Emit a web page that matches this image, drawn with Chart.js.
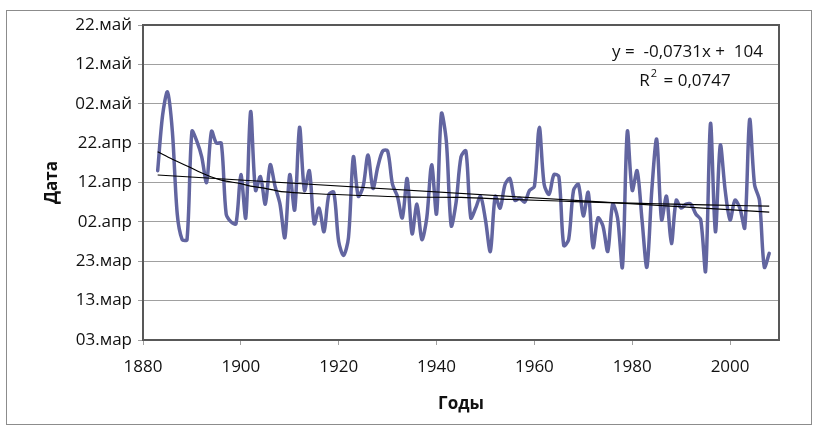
<!DOCTYPE html>
<html>
<head>
<meta charset="utf-8">
<script src="https://cdn.jsdelivr.net/npm/chart.js@4.4.0/dist/chart.umd.min.js"></script>
<style>
  html, body { margin: 0; padding: 0; background: #ffffff; }
  #wrap { width: 821px; height: 430px; position: relative; }
</style>
</head>
<body>
<div id="wrap"><canvas id="c" width="821" height="430"></canvas></div>
<script>
// ---- DATA (day of year; 62 = 03.мар, 142 = 22.май) ----
const startYear = 1883;
const onsetDays = [
  105, 119, 125, 115, 94, 87.5, 87.5, 115, 112.5, 108.5,      // 1883-1892
  102, 115, 112, 112, 94, 92, 91.5, 104, 93, 120,             // 1893-1902
  100, 103.5, 96.5, 106.5, 101, 96.5, 88, 104, 95, 116,       // 1903-1912
  100, 105, 91.5, 95.5, 89.5, 99, 99.5, 87, 83.5, 88,         // 1913-1922
  108.5, 98.5, 101, 109, 100.5, 106, 110, 110, 101.5, 98.5,   // 1923-1932
  93, 103, 89, 96.5, 87.5, 93, 106.5, 94, 119.5, 112.5,       // 1933-1942
  91, 97, 108.5, 110, 93, 95.5, 98.5, 92.5, 84.5, 98.5,       // 1943-1952
  95.5, 101.5, 103, 97.5, 98, 97, 100, 101, 116, 101.5,       // 1953-1962
  99, 104, 103.5, 86, 87.5, 100, 101.5, 93.5, 99.5, 85.5,     // 1963-1972
  93, 91, 84.5, 96.5, 93, 80.5, 115, 100, 105, 92.5,          // 1973-1982
  80.5, 100, 113, 92.5, 98.5, 86.5, 97.5, 95.5, 96.5, 96.5,   // 1983-1992
  94, 92.5, 79.5, 117, 89.5, 111.5, 100, 92.5, 97.5, 95.5,    // 1993-2002
  90.5, 118, 101.5, 97.5, 80.5, 84                            // 2003-2008
];
const years = onsetDays.map((_, i) => startYear + i);

const linTrendYears = [1883, 2008];
const linTrendDays  = [103.9, 94.5];

const curveTrendYears = [1883, 1886, 1889, 1893, 1896, 1900, 1902, 1905, 1907, 1909, 1914, 1925, 1935, 1945, 1955, 1965, 1975, 1985, 1995, 2008];
const curveTrendDays  = [109.8, 107.9, 106.2, 103.9, 102.6, 101.7, 101.1, 100.5, 100.0, 99.6, 99.2, 98.7, 98.3, 98.2, 97.7, 97.3, 96.9, 96.6, 96.3, 96.0];

const xTicks = [1880, 1900, 1920, 1940, 1960, 1980, 2000];
const yTickDays = [62, 72, 82, 92, 102, 112, 122, 132, 142];
const yTickLabels = ['03.мар', '13.мар', '23.мар', '02.апр', '12.апр', '22.апр', '02.май', '12.май', '22.май'];

const eqText = 'y =  -0,0731x +  104';
const r2Value = ' = 0,0747';
const xTitle = 'Годы';
const yTitle = 'Дата';

// ---- CHART ----
const FONT = "'Open Sans', 'DejaVu Sans', sans-serif";

const framePlugin = {
  id: 'frame',
  beforeDraw(chart) {
    const ctx = chart.ctx;
    ctx.save();
    ctx.fillStyle = '#ffffff';
    ctx.fillRect(0, 0, chart.width, chart.height);
    ctx.strokeStyle = '#8c8c8c';
    ctx.lineWidth = 1;
    ctx.strokeRect(6.5, 10.5, 805, 414);
    ctx.restore();
  },
  beforeDatasetsDraw(chart) {
    const {ctx, chartArea: a} = chart;
    ctx.save();
    ctx.strokeStyle = '#585858';
    ctx.lineWidth = 2;
    ctx.strokeRect(a.left, a.top, a.right - a.left, a.bottom - a.top);
    ctx.restore();
  },
  afterDatasetsDraw(chart) {
    const ctx = chart.ctx;
    ctx.save();
    ctx.fillStyle = '#111111';
    ctx.font = '17px ' + FONT;
    ctx.textBaseline = 'middle';
    ctx.textAlign = 'right';
    ctx.fillText(eqText, 763, 52);
    const wR = ctx.measureText('R').width;
    ctx.font = '11px ' + FONT;
    const w2 = ctx.measureText('2').width;
    ctx.font = '17px ' + FONT;
    const wRest = ctx.measureText(r2Value).width;
    const total = wR + w2 + 3 + wRest;
    let x = 685 - total / 2;
    ctx.textAlign = 'left';
    ctx.fillText('R', x, 81);
    x += wR + 1;
    ctx.font = '11px ' + FONT;
    ctx.fillText('2', x, 74);
    x += w2 + 2;
    ctx.font = '17px ' + FONT;
    ctx.fillText(r2Value, x, 81);
    ctx.restore();
  }
};

new Chart(document.getElementById('c'), {
  type: 'line',
  data: {
    datasets: [
      {
        label: 'linear',
        data: linTrendYears.map((y, i) => ({x: y, y: linTrendDays[i]})),
        borderColor: '#000000',
        borderWidth: 1.2,
        pointRadius: 0,
        tension: 0,
        order: 0
      },
      {
        label: 'curve',
        data: curveTrendYears.map((y, i) => ({x: y, y: curveTrendDays[i]})),
        borderColor: '#000000',
        borderWidth: 1.2,
        pointRadius: 0,
        cubicInterpolationMode: 'monotone',
        order: 0
      },
      {
        label: 'onset',
        data: years.map((y, i) => ({x: y, y: onsetDays[i]})),
        borderColor: '#6265a0',
        borderWidth: 3.5,
        pointRadius: 0,
        tension: 0.3,
        borderJoinStyle: 'round',
        borderCapStyle: 'round',
        order: 1
      }
    ]
  },
  options: {
    responsive: false,
    animation: false,
    devicePixelRatio: 1,
    layout: { padding: { left: 0, right: 42, top: 25, bottom: 0 } },
    plugins: { legend: { display: false }, tooltip: { enabled: false } },
    scales: {
      x: {
        type: 'linear',
        min: 1880,
        max: 2010,
        afterBuildTicks: (s) => { s.ticks = xTicks.map(v => ({value: v})); },
        afterFit: (s) => { s.height = 90; },
        ticks: {
          callback: (v) => String(v),
          font: { family: FONT, size: 17 },
          color: '#111111',
          padding: 12,
          maxRotation: 0,
          autoSkip: false
        },
        grid: { drawOnChartArea: false, drawTicks: true, tickLength: 5, color: '#a0a0a0' },
        border: { display: false },
        title: {
          display: true,
          text: xTitle,
          font: { family: FONT, size: 17, weight: 'bold' },
          color: '#111111',
          padding: { top: 0, bottom: 16 }
        }
      },
      y: {
        type: 'linear',
        min: 62,
        max: 142,
        afterBuildTicks: (s) => { s.ticks = yTickDays.map(v => ({value: v})); },
        afterFit: (s) => { s.width = 143; },
        ticks: {
          callback: (v) => yTickLabels[yTickDays.indexOf(v)],
          font: { family: FONT, size: 17 },
          color: '#111111',
          padding: 6,
          autoSkip: false
        },
        grid: { drawOnChartArea: true, drawTicks: true, tickLength: 5, color: '#a0a0a0', lineWidth: 1 },
        border: { display: false },
        title: {
          display: true,
          text: yTitle,
          font: { family: FONT, size: 17, weight: 'bold' },
          color: '#111111',
          padding: { top: 42, bottom: 0 }
        }
      }
    }
  },
  plugins: [framePlugin]
});
</script>
</body>
</html>
